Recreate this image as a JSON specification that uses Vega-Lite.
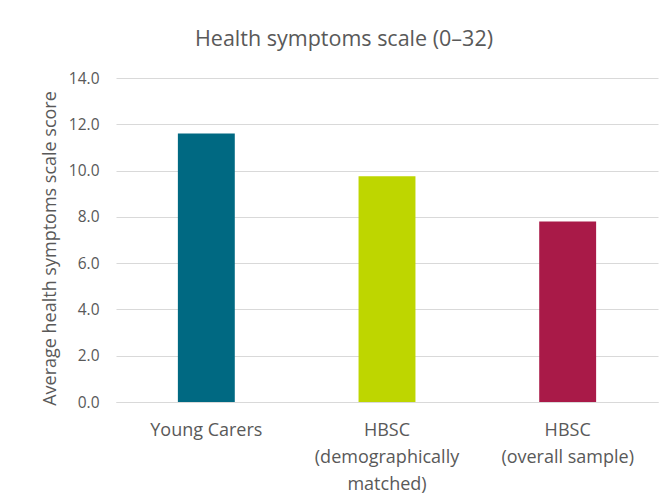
{
  "$schema": "https://vega.github.io/schema/vega-lite/v6.json",
  "width": 542,
  "height": 324,
  "autosize": {"type": "none"},
  "padding": {"left": 116, "top": 78, "right": 10, "bottom": 102},
  "background": "white",
  "title": {
    "text": "Health symptoms scale (0–32)",
    "font": "Open Sans",
    "fontSize": 21.5,
    "fontWeight": "normal",
    "color": "#595959",
    "anchor": "middle",
    "frame": "group",
    "dx": -43,
    "baseline": "alphabetic",
    "offset": 4
  },
  "data": {
    "values": [
      {"group": "Young Carers", "score": 11.6, "order": 1},
      {"group": "HBSC|(demographically|matched)", "score": 9.75, "order": 2},
      {"group": "HBSC|(overall sample)", "score": 7.8, "order": 3}
    ]
  },
  "mark": {"type": "bar"},
  "encoding": {
    "x": {
      "field": "group",
      "type": "nominal",
      "sort": {"field": "order"},
      "scale": {"paddingInner": 0.685, "paddingOuter": 0.3425},
      "axis": {
        "title": null,
        "labelAngle": 0,
        "labelExpr": "split(datum.label, '|')",
        "labelFont": "Open Sans",
        "labelFontSize": 18,
        "labelColor": "#595959",
        "labelLineHeight": 27,
        "labelPadding": 19,
        "ticks": false,
        "domainColor": "#d9d9d9",
        "domainWidth": 1.2
      }
    },
    "y": {
      "field": "score",
      "type": "quantitative",
      "scale": {"domain": [0, 14], "nice": false},
      "axis": {
        "title": "Average health symptoms scale score",
        "titleFont": "Open Sans",
        "titleFontSize": 18,
        "titleFontWeight": "normal",
        "titleColor": "#595959",
        "titleAngle": 270,
        "titleAlign": "center",
        "titleBaseline": "alphabetic",
        "titleX": -61,
        "titleY": 170,
        "values": [0, 2, 4, 6, 8, 10, 12, 14],
        "format": ".1f",
        "labelFont": "Open Sans",
        "labelFontSize": 15.5,
        "labelColor": "#595959",
        "labelPadding": 17,
        "ticks": false,
        "domain": false,
        "gridColor": "#d9d9d9",
        "gridWidth": 1.2
      }
    },
    "color": {
      "field": "group",
      "type": "nominal",
      "scale": {
        "domain": ["Young Carers", "HBSC|(demographically|matched)", "HBSC|(overall sample)"],
        "range": ["#006982", "#BED600", "#A91A48"]
      },
      "legend": null
    }
  },
  "config": {"view": {"stroke": null}}
}
